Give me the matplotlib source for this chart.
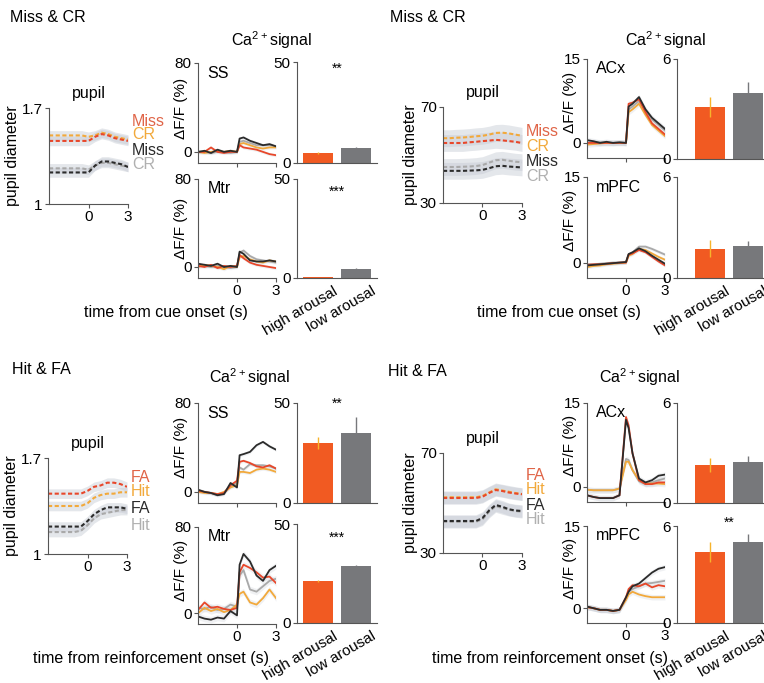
import numpy as np
import matplotlib
matplotlib.use("Agg")
import matplotlib.pyplot as plt
from matplotlib.transforms import ScaledTranslation

plt.rcParams['font.family'] = ['Liberation Sans', 'DejaVu Sans']
plt.rcParams['mathtext.default'] = 'regular'
plt.rcParams['font.size'] = 11.5

# time axes (s)
t_pupil = [-3, -2.5, -2, -1.5, -1, -0.5, 0, 0.5, 1, 1.5, 2, 2.5, 3]
t_ca = [-3, -2.5, -2, -1.5, -1, -0.5, 0, 0.2, 0.5, 1, 1.5, 2, 2.5, 3]

# ---- Miss & CR, left (SS / Mtr) ----
tl_pupil_miss_hi = [1.46, 1.46, 1.46, 1.46, 1.46, 1.46, 1.46, 1.49, 1.51, 1.50, 1.48, 1.47, 1.46]
tl_pupil_cr_hi = [1.50, 1.50, 1.50, 1.50, 1.50, 1.50, 1.49, 1.50, 1.52, 1.51, 1.49, 1.48, 1.47]
tl_pupil_miss_lo = [1.23, 1.23, 1.23, 1.23, 1.23, 1.23, 1.23, 1.28, 1.31, 1.31, 1.30, 1.29, 1.27]
tl_pupil_cr_lo = [1.26, 1.26, 1.26, 1.26, 1.26, 1.26, 1.25, 1.28, 1.30, 1.30, 1.29, 1.28, 1.27]

tl_ss_red = [0, 0, 4, 0, -1, 0, 0, 6, 4, 3, 2, 0, -2, -3]
tl_ss_orange = [0, -1, 0, 1, 0, 1, 0, 7, 8, 6, 4, 3, 4, 4]
tl_ss_dark = [0, 1, -1, 2, 0, 1, 0, 12, 13, 10, 8, 6, 7, 5]
tl_ss_gray = [0, 0, -1, 0, 0, -1, 0, 9, 10, 8, 6, 6, 6, 5]

tl_mtr_red = [1, 0, 2, -1, 1, 0, 1, 11, 8, 4, 2, 1, 0, -1]
tl_mtr_orange = [0, 2, 1, 0, -2, 1, 0, 9, 10, 7, 5, 4, 6, 5]
tl_mtr_dark = [3, 2, 1, 3, 0, 1, 0, 14, 12, 6, 5, 5, 6, 5]
tl_mtr_gray = [2, 1, 0, 1, 0, -1, 0, 13, 15, 10, 7, 6, 5, 4]

tl_ss_bars = [5.0, 7.5]
tl_ss_err = [0.3, 0.4]
tl_mtr_bars = [0.5, 4.5]
tl_mtr_err = [0.1, 0.3]

# ---- Miss & CR, right (ACx / mPFC) ----
tr_pupil_miss_hi = [55, 55, 55, 55, 55.3, 55.5, 55.8, 56, 56.3, 56.1, 55.8, 55.5, 55]
tr_pupil_cr_hi = [57, 57, 57.2, 57.3, 57.5, 57.8, 58, 58.5, 59.2, 59.3, 59, 58.5, 58]
tr_pupil_miss_lo = [43.4, 43.4, 43.4, 43.4, 43.5, 43.6, 43.8, 44.5, 45.3, 45.5, 45.2, 45, 44.8]
tr_pupil_cr_lo = [45, 45, 45, 45.1, 45.2, 45.4, 45.8, 46.8, 47.8, 48, 47.6, 47.2, 47]

tr_acx_red = [0, 0, 0, 0, 0, 0, 0, 7, 7.2, 7.8, 5.5, 3.5, 2.5, 1.5]
tr_acx_orange = [-0.3, -0.2, -0.1, 0, 0, 0, 0, 5.5, 6, 7, 5, 3.2, 2.2, 1.2]
tr_acx_dark = [0.5, 0.3, 0, 0.2, 0, 0.1, 0, 6.5, 7, 8.2, 6, 4.5, 3.5, 2.5]
tr_acx_gray = [0, 0.2, 0.1, 0, 0, 0.1, 0, 6, 6.5, 7.5, 5.8, 4.2, 3.2, 2.2]

tr_mpfc_red = [-0.4, -0.3, -0.3, -0.2, -0.1, 0, 0, 1.4, 1.6, 2.2, 1.8, 1.0, 0.2, -0.5]
tr_mpfc_orange = [-0.8, -0.6, -0.5, -0.3, -0.2, -0.1, 0, 1.2, 1.5, 2.4, 2.2, 1.6, 1.0, 0.5]
tr_mpfc_dark = [-0.5, -0.4, -0.3, -0.2, -0.1, 0, 0.1, 1.5, 1.8, 2.5, 2.0, 1.2, 0.5, -0.2]
tr_mpfc_gray = [-0.3, -0.3, -0.2, -0.1, 0, 0, 0.1, 1.4, 1.8, 2.8, 2.8, 2.4, 1.9, 1.4]

tr_acx_bars = [3.15, 3.95]
tr_acx_err = [0.6, 0.7]
tr_mpfc_bars = [1.75, 1.9]
tr_mpfc_err = [0.5, 0.3]

# ---- Hit & FA, left (SS / Mtr) ----
bl_pupil_fa_hi = [1.44, 1.44, 1.44, 1.44, 1.44, 1.44, 1.46, 1.49, 1.50, 1.52, 1.52, 1.51, 1.49]
bl_pupil_hit_hi = [1.35, 1.35, 1.35, 1.35, 1.35, 1.35, 1.37, 1.41, 1.43, 1.44, 1.44, 1.45, 1.45]
bl_pupil_fa_lo = [1.20, 1.20, 1.20, 1.20, 1.20, 1.20, 1.24, 1.29, 1.32, 1.34, 1.34, 1.34, 1.33]
bl_pupil_hit_lo = [1.16, 1.16, 1.16, 1.16, 1.16, 1.17, 1.21, 1.26, 1.29, 1.30, 1.31, 1.32, 1.32]

bl_ss_red = [1, 0, -1, -2, -1, 6, 10, 27, 28, 26, 23, 22, 24, 21]
bl_ss_orange = [0, -1, -1, -2, 0, 4, 6, 18, 18, 17, 20, 21, 20, 18]
bl_ss_dark = [2, 0, -1, -3, -2, 8, 4, 33, 34, 36, 42, 45, 41, 38]
bl_ss_gray = [1, 0, -1, -3, -1, 5, 8, 22, 20, 25, 24, 24, 23, 21]

bl_mtr_red = [3, 10, 5, 6, 4, 3, 5, 38, 45, 42, 38, 33, 34, 28]
bl_mtr_orange = [0, 5, 2, 4, 1, 3, 8, 18, 20, 10, 8, 14, 22, 14]
bl_mtr_dark = [-3, -5, -6, -4, -5, 2, -2, 45, 55, 48, 35, 30, 40, 44]
bl_mtr_gray = [5, 4, 6, 3, 4, 8, 6, 35, 40, 22, 20, 25, 30, 32]

bl_ss_bars = [30, 35]
bl_ss_err = [3, 8]
bl_mtr_bars = [21, 28.8]
bl_mtr_err = [0.5, 0.6]

# ---- Hit & FA, right (ACx / mPFC) ----
br_pupil_fa_hi = [52, 52, 52, 52, 52, 52, 52.5, 54, 55.2, 54.8, 54.2, 53.8, 53.5]
br_pupil_hit_hi = [52.3, 52.3, 52.3, 52.3, 52.3, 52.3, 52.8, 54.2, 55.5, 55, 54.5, 54, 53.6]
br_pupil_fa_lo = [42.8, 42.8, 42.8, 42.8, 42.8, 42.8, 44, 47, 49.2, 48.5, 47.5, 47, 46.8]
br_pupil_hit_lo = [42.5, 42.5, 42.5, 42.5, 42.5, 42.5, 43.5, 46.5, 48.8, 48, 47.3, 46.8, 46.5]

br_acx_red = [-1.5, -1.8, -2, -2, -2, -1.5, 12.5, 11, 6, 1.2, 0.5, 0.5, 0.8, 0.8]
br_acx_orange = [-0.5, -0.6, -0.6, -0.6, -0.6, -0.3, 4.5, 4.5, 3, 1.2, 0.6, 0.6, 0.6, 0.5]
br_acx_dark = [-1.5, -1.8, -2, -2, -2, -1.5, 12, 10.5, 6, 1.5, 0.8, 1.2, 2, 2.2]
br_acx_gray = [-0.5, -0.6, -0.6, -0.6, -0.6, -0.3, 5, 4.8, 3, 1, 0.5, 0.8, 1.2, 1.5]

br_mpfc_red = [0.2, 0, -0.3, -0.3, -0.5, -0.3, 2, 3.5, 4.2, 4, 4.5, 3.8, 4.2, 4]
br_mpfc_orange = [0.2, 0, -0.3, -0.3, -0.5, -0.3, 1.5, 2.5, 3, 2.5, 2.2, 2, 2, 2]
br_mpfc_dark = [0.3, 0, -0.3, -0.3, -0.5, -0.3, 2, 3, 4, 4.5, 5.5, 6.5, 7.2, 7.5]
br_mpfc_gray = [0.2, 0, -0.3, -0.3, -0.5, -0.3, 1.8, 3, 3.5, 4, 4.5, 4.6, 4.8, 5]

br_acx_bars = [2.28, 2.46]
br_acx_err = [0.42, 0.36]
br_mpfc_bars = [4.38, 5.0]
br_mpfc_err = [0.6, 0.5]

bar_labels = ['high arousal', 'low arousal']

RED = '#e8472a'
ORANGE = '#f2a93b'
DARK = '#2b2b2b'
GRAY = '#a9a9a9'
BAR_HI = '#f15a22'
BAR_LO = '#77787b'
ERR_HI = '#f7b32b'
BAND = '#c5cad3'
LINE_COLORS = [RED, ORANGE, DARK, GRAY]

W, H = 764, 683
fig = plt.figure(figsize=(W / 100, H / 100), dpi=100)


def box(x0, y0, x1, y1):
    return [x0 / W, 1 - y1 / H, (x1 - x0) / W, (y1 - y0) / H]


def clean(ax):
    ax.spines['top'].set_visible(False)
    ax.spines['right'].set_visible(False)
    for s in ['left', 'bottom']:
        ax.spines[s].set_color('#555555')
        ax.spines[s].set_linewidth(0.8)
    ax.tick_params(length=3, width=0.8, pad=1.5, color='#555555', labelsize=11)


def pupil_panel(rect, traces, names, ylim, ytl, sem, leg_y):
    ax = fig.add_axes(box(*rect))
    clean(ax)
    for vals in traces:
        v = np.array(vals)
        ax.fill_between(t_pupil, v - sem, v + sem, color=BAND, alpha=0.45, lw=0)
    for vals, c in reversed(list(zip(traces, LINE_COLORS))):
        ax.plot(t_pupil, vals, color=c, ls=(0, (2, 1.2)), lw=1.5)
    ax.set_xlim(-3, 3)
    ax.set_ylim(*ylim)
    ax.set_xticks([0, 3])
    ax.set_yticks(ylim, ytl)
    ax.set_title('pupil', fontsize=11.5, pad=7)
    ax.set_ylabel('pupil diameter', labelpad=1)
    for name, c, y in zip(names, ['#e06548', ORANGE, DARK, '#b0b0b0'], leg_y):
        ax.text(1.05, y, name, color=c, transform=ax.transAxes, va='center')
    return ax


def ca_panel(rect, traces, ylim, ytop, name, bottom, sem, label_y):
    ax = fig.add_axes(box(*rect))
    clean(ax)
    for vals in traces:
        v = np.array(vals)
        ax.fill_between(t_ca, v - sem, v + sem, color=BAND, alpha=0.25, lw=0)
    red, orange, dark, gray = traces
    for vals, c in [(gray, GRAY), (orange, ORANGE), (red, RED), (dark, DARK)]:
        ax.plot(t_ca, vals, color=c, lw=1.3)
    ax.set_xlim(-3, 3)
    ax.set_ylim(*ylim)
    ax.set_yticks([0, ytop], ['0', str(ytop)])
    ax.set_xticks([0, 3])
    if not bottom:
        ax.set_xticklabels([])
    ax.set_ylabel('ΔF/F (%)', fontsize=11)
    ax.yaxis.set_label_coords(-0.13, label_y)
    ax.text(0.12, 0.9, name, transform=ax.transAxes, va='center')
    return ax


def bar_panel(rect, vals, errs, ytop, xlim, stars=None, star_y=0.93, labels=False):
    ax = fig.add_axes(box(*rect))
    clean(ax)
    ax.bar([0, 1], vals, width=0.8, color=[BAR_HI, BAR_LO])
    ax.errorbar([0], [vals[0]], yerr=[errs[0]], color=ERR_HI, lw=1, capsize=0, fmt='none')
    ax.errorbar([1], [vals[1]], yerr=[errs[1]], color=BAR_LO, lw=1, capsize=0, fmt='none')
    ax.set_xlim(*xlim)
    ax.set_ylim(0, ytop)
    ax.set_yticks([0, ytop])
    ax.tick_params(axis='x', length=0)
    if labels:
        ax.set_xticks([0, 1], bar_labels, rotation=30, ha='right', rotation_mode='anchor')
        for lab in ax.get_xticklabels():
            lab.set_transform(lab.get_transform()
                              + ScaledTranslation(0.15, -0.04, fig.dpi_scale_trans))
    else:
        ax.set_xticks([])
    if stars:
        ax.text(0.5, star_y, stars, transform=ax.get_xaxis_transform(), ha='center',
                va='center', fontsize=10)
    return ax


# ---------------- Miss & CR, left ----------------
fig.text(10 / W, 1 - 18 / H, 'Miss & CR', va='center')
fig.text(272 / W, 1 - 40 / H, 'Ca$^{2+}$signal', ha='center', va='center')
pupil_panel((49, 108, 128, 204),
            [tl_pupil_miss_hi, tl_pupil_cr_hi, tl_pupil_miss_lo, tl_pupil_cr_lo],
            ['Miss', 'CR', 'Miss', 'CR'], (1, 1.7), ['1', '1.7'], 0.035,
            [0.86, 0.72, 0.56, 0.41])
ca_panel((198, 63, 276, 163), [tl_ss_red, tl_ss_orange, tl_ss_dark, tl_ss_gray],
         (-10, 80), 80, 'SS', False, 1.5, 0.55)
ca_panel((198, 179, 276, 278), [tl_mtr_red, tl_mtr_orange, tl_mtr_dark, tl_mtr_gray],
         (-10, 80), 80, 'Mtr', True, 1.5, 0.5)
bar_panel((297, 62, 377, 163), tl_ss_bars, tl_ss_err, 50, (-0.55, 1.55), '**', 0.93)
bar_panel((297, 179, 377, 278), tl_mtr_bars, tl_mtr_err, 50, (-0.55, 1.55), '***', 0.87,
          labels=True)
fig.text(166 / W, 1 - 313 / H, 'time from cue onset (s)', ha='center', va='center')

# ---------------- Miss & CR, right ----------------
fig.text(390 / W, 1 - 18 / H, 'Miss & CR', va='center')
fig.text(666 / W, 1 - 40 / H, 'Ca$^{2+}$signal', ha='center', va='center')
pupil_panel((443, 107, 522, 203),
            [tr_pupil_miss_hi, tr_pupil_cr_hi, tr_pupil_miss_lo, tr_pupil_cr_lo],
            ['Miss', 'CR', 'Miss', 'CR'], (30, 70), ['30', '70'], 3.5,
            [0.74, 0.59, 0.43, 0.28])
ca_panel((587, 59, 665, 158), [tr_acx_red, tr_acx_orange, tr_acx_dark, tr_acx_gray],
         (-2.7, 15), 15, 'ACx', False, 0.5, 0.56)
ca_panel((587, 177, 665, 278), [tr_mpfc_red, tr_mpfc_orange, tr_mpfc_dark, tr_mpfc_gray],
         (-2.7, 15), 15, 'mPFC', True, 0.3, 0.57)
bar_panel((677, 59, 769, 159), tr_acx_bars, tr_acx_err, 6, (-0.88, 1.55))
bar_panel((677, 177, 769, 278), tr_mpfc_bars, tr_mpfc_err, 6, (-0.88, 1.55), labels=True)
fig.text(559 / W, 1 - 313 / H, 'time from cue onset (s)', ha='center', va='center')

# ---------------- Hit & FA, left ----------------
fig.text(12 / W, 1 - 370 / H, 'Hit & FA', va='center')
fig.text(250 / W, 1 - 377 / H, 'Ca$^{2+}$signal', ha='center', va='center')
pupil_panel((48, 458, 127, 554),
            [bl_pupil_fa_hi, bl_pupil_hit_hi, bl_pupil_fa_lo, bl_pupil_hit_lo],
            ['FA', 'Hit', 'FA', 'Hit'], (1, 1.7), ['1', '1.7'], 0.035,
            [0.80, 0.65, 0.47, 0.30])
ca_panel((198, 403, 276, 503), [bl_ss_red, bl_ss_orange, bl_ss_dark, bl_ss_gray],
         (-10, 80), 80, 'SS', False, 1.5, 0.56)
ca_panel((198, 527, 276, 624), [bl_mtr_red, bl_mtr_orange, bl_mtr_dark, bl_mtr_gray],
         (-10, 80), 80, 'Mtr', True, 3, 0.55)
bar_panel((297, 403, 377, 503), bl_ss_bars, bl_ss_err, 50, (-0.55, 1.55), '**', 0.99)
bar_panel((297, 524, 377, 623), bl_mtr_bars, bl_mtr_err, 50, (-0.55, 1.55), '***', 0.86,
          labels=True)
fig.text(151 / W, 1 - 658 / H, 'time from reinforcement onset (s)', ha='center', va='center')

# ---------------- Hit & FA, right ----------------
fig.text(388 / W, 1 - 372 / H, 'Hit & FA', va='center')
fig.text(640 / W, 1 - 377 / H, 'Ca$^{2+}$signal', ha='center', va='center')
pupil_panel((443, 453, 522, 553),
            [br_pupil_fa_hi, br_pupil_hit_hi, br_pupil_fa_lo, br_pupil_hit_lo],
            ['FA', 'Hit', 'FA', 'Hit'], (30, 70), ['30', '70'], 2.5,
            [0.77, 0.63, 0.48, 0.33])
ca_panel((587, 403, 665, 502), [br_acx_red, br_acx_orange, br_acx_dark, br_acx_gray],
         (-2.7, 15), 15, 'ACx', False, 0.5, 0.57)
ca_panel((587, 526, 665, 623), [br_mpfc_red, br_mpfc_orange, br_mpfc_dark, br_mpfc_gray],
         (-2.7, 15), 15, 'mPFC', True, 0.5, 0.56)
bar_panel((677, 403, 769, 503), br_acx_bars, br_acx_err, 6, (-0.88, 1.55))
bar_panel((677, 526, 769, 623), br_mpfc_bars, br_mpfc_err, 6, (-0.88, 1.55), '**', 1.03,
          labels=True)
fig.text(550 / W, 1 - 658 / H, 'time from reinforcement onset (s)', ha='center', va='center')

fig.savefig('out.png', dpi=100)
